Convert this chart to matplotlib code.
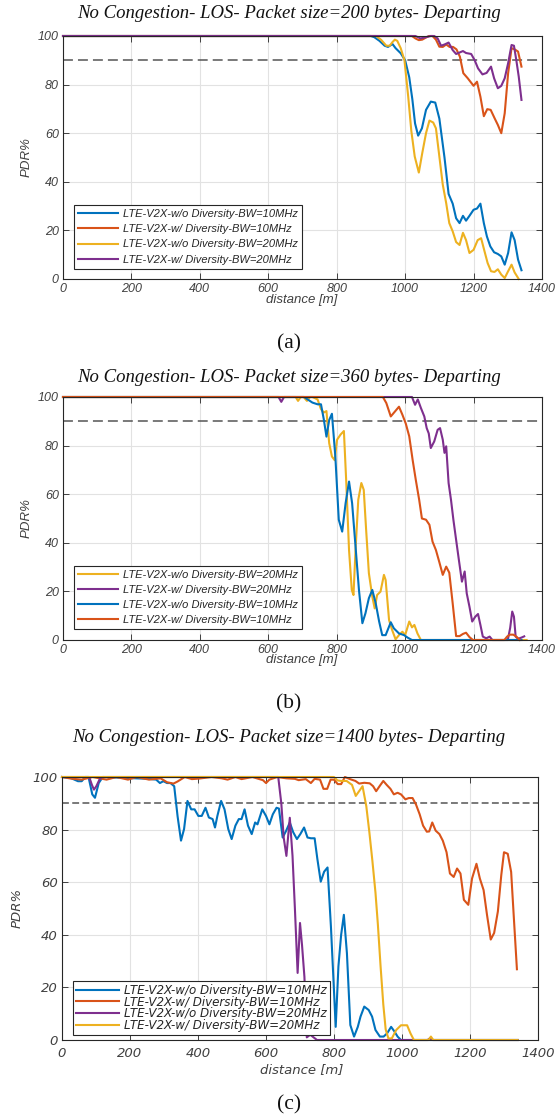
import matplotlib
matplotlib.use('Agg')
import matplotlib.pyplot as plt

# MATLAB default colours
c_blue = '#0072BD'
c_orange = '#D95319'
c_yellow = '#EDB120'
c_purple = '#7E2F8E'

# ---------------- panel (a): 200 bytes ----------------
a_blue_x = [0, 900, 910, 925, 940, 950, 963, 972, 987, 1000, 1012, 1021, 1029, 1038, 1049, 1061, 1075, 1088, 1100,
            1115, 1127, 1139, 1149, 1159, 1169, 1178, 1188, 1200, 1210, 1220, 1230, 1239, 1249, 1260, 1271, 1281,
            1291, 1301, 1311, 1320, 1330, 1340]
a_blue_y = [100, 100, 99.5, 98, 96, 95.5, 96.7, 95, 92.9, 90, 83, 74, 64, 59, 62, 69.6, 73, 72.6, 66,
            50, 35, 31, 25, 23, 26, 24, 26, 28.5, 29, 31, 23, 17.5, 13.4, 11, 10.3, 9.3,
            5.9, 10.7, 19.2, 16, 8, 3.6]
a_orange_x = [0, 1020, 1030, 1040, 1050, 1060, 1070, 1080, 1090, 1100, 1110, 1120, 1130, 1140, 1150, 1160, 1170,
              1183, 1200, 1210, 1220, 1230, 1240, 1250, 1262, 1271, 1281, 1291, 1301, 1311, 1320, 1330, 1340]
a_orange_y = [100, 100, 99, 98.3, 98.5, 99.3, 100, 100, 98.5, 95.6, 95.5, 96.5, 95.5, 95.5, 94.5, 91.5, 84.7,
              82.6, 79.5, 81.2, 75, 67, 69.9, 69.6, 66, 63.4, 60, 68.2, 84.7, 95, 94.5, 93.6, 87.4]
a_yellow_x = [0, 915, 930, 945, 955, 963, 970, 977, 987, 998, 1009, 1018, 1028, 1040, 1050, 1061, 1071, 1082,
              1090, 1100, 1110, 1120, 1129, 1139, 1149, 1159, 1169, 1178, 1188, 1200, 1212, 1222, 1232, 1241,
              1251, 1261, 1271, 1281, 1291, 1301, 1311, 1320, 1332]
a_yellow_y = [100, 100, 98.4, 96, 96, 97.5, 98.5, 98, 95, 90, 75, 61, 50.4, 43.8, 51.8, 60, 65.2, 64.4,
              62, 50.4, 38.8, 31.2, 23, 19.6, 15.2, 14, 19, 16, 10.7, 12, 16, 16.8, 11.4, 6.6,
              3.2, 2.9, 4, 1.8, 0.4, 3.2, 5.9, 2.7, 0]
a_purple_x = [0, 1030, 1045, 1060, 1075, 1085, 1095, 1105, 1115, 1127, 1139, 1149, 1159, 1169, 1178, 1193, 1203,
              1213, 1226, 1238, 1251, 1260, 1271, 1281, 1291, 1301, 1311, 1318, 1325, 1332, 1340]
a_purple_y = [100, 100, 99, 99.5, 100, 100, 99, 96, 96.5, 97.3, 94.2, 92.6, 93.2, 93.8, 93, 92.6, 90.1,
              86.7, 84.2, 84.8, 87.4, 82.6, 78.5, 79.5, 82.6, 88.8, 96.3, 96, 90, 83.3, 73.7]

# ---------------- panel (b): 360 bytes ----------------
b_yellow_x = [0, 680, 687, 695, 703, 713, 722, 729, 744, 754, 762, 770, 778, 786, 794, 801, 811, 821, 828, 836,
              844, 849, 855, 863, 872, 879, 886, 894, 904, 911, 918, 928, 938, 943, 953, 962, 972, 982, 992,
              1000, 1012, 1020, 1027, 1036, 1046, 1355]
b_yellow_y = [100, 100, 98.4, 100, 100, 98.4, 100, 100, 99, 95, 93.6, 94.2, 81, 75.5, 74, 82.4, 84.5, 86, 64.6, 37,
              20.6, 18.5, 37, 57.7, 64.6, 61.8, 45.3, 27.5, 17.9, 13, 18.5, 19.9, 26.8, 24.7, 8.2, 4.1, 0.3, 2, 3.4,
              2, 7.6, 5.2, 6.2, 2.7, 0, 0]
b_purple_x = [0, 630, 638, 646, 655, 1020, 1029, 1037, 1046, 1056, 1063, 1069, 1075, 1085, 1095, 1102, 1110, 1115,
              1120, 1127, 1134, 1141, 1149, 1157, 1166, 1174, 1180, 1188, 1196, 1205, 1213, 1220, 1227, 1237,
              1247, 1255, 1300, 1307, 1313, 1318, 1323, 1330, 1340, 1348]
b_purple_y = [100, 100, 98, 100, 100, 100, 96.8, 99, 95.5, 92, 87.2, 85, 79, 81.7, 86.5, 87.2, 82.4, 77,
              79.7, 64.6, 57.7, 49.5, 41.2, 33, 24, 28.2, 19.2, 13.7, 7.6, 9.6, 10.7, 6.2, 1.4, 0.7,
              1.4, 0, 0, 5, 11.7, 9.6, 1.4, 0.5, 1, 1.5]
b_blue_x = [0, 705, 715, 729, 744, 754, 762, 770, 778, 786, 796, 806, 816, 826, 836, 845, 855, 865, 875, 884,
            894, 904, 914, 924, 933, 943, 958, 967, 982, 997, 1007, 1020, 1340]
b_blue_y = [100, 100, 99, 97.7, 97, 97, 91, 83.7, 90.5, 93.1, 75.5, 49.5, 44.6, 56.3, 65.2, 56.3, 38.5, 20.6, 6.9,
            11, 17.2, 20.6, 15.1, 7.6, 2, 2, 7.3, 4.8, 2.7, 2, 1, 0, 0]
b_orange_x = [0, 935, 945, 958, 973, 982, 992, 1002, 1012, 1022, 1031, 1041, 1049, 1061, 1071, 1080, 1090, 1100,
              1110, 1120, 1129, 1139, 1149, 1159, 1169, 1178, 1188, 1198, 1290, 1298, 1306, 1316, 1325, 1335]
b_orange_y = [100, 100, 97.5, 92, 94.5, 96, 92.7, 89, 83.8, 74, 66, 57.7, 50, 49.5, 47.4, 40.5, 37, 32,
              26.8, 30.2, 27.7, 15, 1.6, 1.6, 2.5, 3, 1.2, 0, 0, 1.4, 2.2, 2.2, 1.4, 0]

# ---------------- panel (c): 1400 bytes ----------------
c_blue_x = [0, 26, 47, 58, 68, 78, 89, 97, 108, 120, 256, 277, 288, 298, 309, 319, 330, 340, 350, 359, 369, 380,
            390, 401, 411, 422, 432, 443, 450, 457, 468, 478, 489, 499, 510, 520, 528, 537, 547, 558, 568, 575,
            589, 600, 610, 620, 631, 638, 649, 659, 670, 680, 691, 701, 712, 722, 732, 743, 751, 761, 771, 781,
            791, 805, 813, 821, 829, 838, 848, 859, 870, 878, 889, 902, 912, 922, 935, 946, 956, 968, 978, 987,
            997, 1340]
c_blue_y = [100, 99.6, 98.4, 98.4, 100, 100, 93.4, 92.1, 97.7, 100, 99.3, 99, 97.7, 98.4, 97.7, 97.7, 96.5, 85,
            75.8, 80.2, 90.9, 87.7, 87.7, 85.2, 85.2, 88.3, 84.6, 84, 80.8, 85.2, 90.9, 87.7, 80.2, 76.4, 81.5,
            84, 84, 87.7, 81.5, 78.3, 82.7, 82, 87.7, 85.2, 82, 85.8, 88.3, 88, 77, 79.5, 82.7, 79, 76.4, 78.3,
            80.8, 77, 76.7, 76.7, 68.9, 60.2, 64, 65.6, 43, 5, 28, 40, 47.6, 33, 5.7, 1.3, 5, 8.9, 12.7, 11.4,
            8.9, 3.8, 1.3, 1.3, 2.5, 5, 3.2, 1.3, 0, 0]
c_orange_x = [0, 26, 58, 90, 131, 160, 194, 220, 256, 290, 309, 328, 340, 361, 382, 403, 440, 470, 487, 510, 528,
              560, 591, 600, 610, 633, 660, 685, 696, 717, 732, 743, 759, 769, 780, 790, 800, 811, 821, 832,
              847, 863, 874, 889, 905, 915, 924, 934, 945, 955, 966, 976, 987, 997, 1010, 1020, 1031, 1041,
              1052, 1062, 1073, 1080, 1089, 1099, 1110, 1120, 1131, 1141, 1152, 1162, 1172, 1182, 1195, 1206,
              1219, 1229, 1240, 1250, 1261, 1271, 1282, 1292, 1300, 1311, 1321, 1329, 1338]
c_orange_y = [100, 99.4, 99, 100, 99, 100, 99, 100, 99, 99.5, 98, 97.5, 98.3, 100, 99.2, 99.4, 100, 99.5, 99,
              100, 99.2, 100, 98.8, 97.7, 99, 100, 99.5, 99.3, 98.8, 99.2, 97.7, 99.3, 99, 95.5, 95.5, 99, 99,
              97.3, 97.3, 100, 99.2, 98.5, 97.5, 97.8, 97.6, 96.5, 94.6, 96.5, 98.5, 97, 95.5, 93.4, 94, 93.4,
              91.5, 92, 92, 89.6, 85.8, 81.5, 79.2, 79.3, 82.7, 79.6, 78.3, 75.8, 71.4, 63.3, 62, 65.2, 63.3,
              53.3, 51.4, 61.4, 67, 61.4, 57, 47.6, 38.2, 40.7, 48.9, 62.7, 71.4, 70.8, 63.9, 46.4, 26.9]
c_purple_x = [0, 80, 88, 94, 101, 112, 120, 636, 645, 652, 660, 670, 678, 685, 693, 700, 706, 713, 720, 730,
              740, 750, 1075, 1082, 1090, 1340]
c_purple_y = [100, 100, 97, 95.2, 96.5, 99.5, 100, 100, 90, 77, 70, 84.5, 70, 50, 25.5, 44.5, 36, 24, 1, 2,
              1, 0, 0, 0.6, 0, 0]
c_yellow_x = [0, 800, 810, 822, 837, 853, 864, 876, 884, 895, 904, 913, 922, 929, 937, 945, 952, 960, 970, 983,
              997, 1015, 1025, 1035, 1078, 1085, 1092, 1340]
c_yellow_y = [100, 100, 98.7, 98.5, 98.5, 97, 92.8, 95, 96.5, 88.9, 79, 68, 56, 44, 28, 13.5, 4, 0.6, 0.6, 3.8,
              5.6, 5.6, 2.5, 0, 0, 1.3, 0, 0]

lab_10_wo = 'LTE-V2X-w/o Diversity-BW=10MHz'
lab_10_w = 'LTE-V2X-w/ Diversity-BW=10MHz'
lab_20_wo = 'LTE-V2X-w/o Diversity-BW=20MHz'
lab_20_w = 'LTE-V2X-w/ Diversity-BW=20MHz'

W, H = 557, 1119
fig = plt.figure(figsize=(W / 100, H / 100), dpi=100)


def make_axes(l, t, r, b):
    return fig.add_axes([l / W, 1 - b / H, (r - l) / W, (b - t) / H])


def style_axes(ax, tickfont, tsize, dash):
    ax.set_xlim(0, 1400)
    ax.set_ylim(0, 100)
    ax.set_xticks(range(0, 1401, 200))
    ax.set_yticks(range(0, 101, 20))
    ax.grid(True, color='#e2e2e2', lw=0.8)
    ax.set_axisbelow(True)
    ax.tick_params(direction='in', top=True, right=True, length=4, width=0.6,
                   color='#262626', labelcolor='#404040', labelsize=tsize, pad=3)
    for lbl in ax.get_xticklabels() + ax.get_yticklabels():
        lbl.set_fontfamily(tickfont)
        lbl.set_fontstyle('italic')
    for sp in ax.spines.values():
        sp.set_linewidth(0.8)
        sp.set_color('#262626')
    ax.axhline(90, color='#555555', lw=1.1, ls=dash, zorder=1.5)


def add_legend(ax, font, size, anchor, spacing, hlen, bpad):
    leg = ax.legend(loc='lower left', bbox_to_anchor=anchor, borderaxespad=0,
                    prop={'family': font, 'style': 'italic', 'size': size},
                    handlelength=hlen, handletextpad=0.45, labelspacing=spacing,
                    borderpad=bpad, fancybox=False, framealpha=1, edgecolor='#262626')
    leg.get_frame().set_linewidth(0.8)
    for t in leg.get_texts():
        t.set_color('#262626')
    return leg


lw = 1.5

# (a)
ax1 = make_axes(63, 36, 542, 279)
style_axes(ax1, 'Liberation Sans', 9, (0, (6.5, 3.3)))
ax1.plot(a_blue_x, a_blue_y, color=c_blue, lw=lw, label=lab_10_wo, clip_on=False)
ax1.plot(a_orange_x, a_orange_y, color=c_orange, lw=lw, label=lab_10_w, clip_on=False)
ax1.plot(a_yellow_x, a_yellow_y, color=c_yellow, lw=lw, label=lab_20_wo, clip_on=False)
ax1.plot(a_purple_x, a_purple_y, color=c_purple, lw=lw, label=lab_20_w, clip_on=False)
add_legend(ax1, 'Liberation Sans', 8, (0.023, 0.043), 0.47, 3.6, 0.35)

# (b)
ax2 = make_axes(63, 397, 542, 640)
style_axes(ax2, 'Liberation Sans', 9, (0, (6.5, 3.3)))
ax2.plot(b_yellow_x, b_yellow_y, color=c_yellow, lw=lw, label=lab_20_wo, clip_on=False)
ax2.plot(b_purple_x, b_purple_y, color=c_purple, lw=lw, label=lab_20_w, clip_on=False)
ax2.plot(b_blue_x, b_blue_y, color=c_blue, lw=lw, label=lab_10_wo, clip_on=False)
ax2.plot(b_orange_x, b_orange_y, color=c_orange, lw=lw, label=lab_10_w, clip_on=False)
add_legend(ax2, 'Liberation Sans', 8, (0.023, 0.045), 0.47, 3.6, 0.35)

# (c)
ax3 = make_axes(62, 777, 538, 1040)
style_axes(ax3, 'DejaVu Sans', 9.5, (0, (4.5, 2.2)))
ax3.tick_params(axis='x', pad=5)
ax3.plot(c_blue_x, c_blue_y, color=c_blue, lw=lw, label=lab_10_wo, clip_on=False)
ax3.plot(c_orange_x, c_orange_y, color=c_orange, lw=lw, label=lab_10_w, clip_on=False)
ax3.plot(c_purple_x, c_purple_y, color=c_purple, lw=lw, label=lab_20_wo, clip_on=False)
ax3.plot(c_yellow_x, c_yellow_y, color=c_yellow, lw=lw, label=lab_20_w, clip_on=False)
add_legend(ax3, 'DejaVu Sans', 8.6, (0.023, 0.02), -0.12, 3.6, 0.25)

titles = ['No Congestion- LOS- Packet size=200 bytes- Departing',
          'No Congestion- LOS- Packet size=360 bytes- Departing',
          'No Congestion- LOS- Packet size=1400 bytes- Departing']
title_y = [14, 377, 738]
xlabel_y = [300, 660, 1070]
ylab_x = [27, 27, 17]
ax_mid = [157, 518, 908]
captions = ['(a)', '(b)', '(c)']
cap_y = [344, 704, 1105]

for i in range(3):
    fam = 'Liberation Sans' if i < 2 else 'DejaVu Sans'
    fig.text(289 / W, 1 - title_y[i] / H, titles[i], ha='center', va='center',
             family='Liberation Serif', style='italic', size=13.5, color='#111111')
    fig.text(302 / W, 1 - xlabel_y[i] / H, 'distance [m]', ha='center', va='center',
             family=fam, style='italic', size=9.5, color='#404040')
    fig.text(ylab_x[i] / W, 1 - ax_mid[i] / H, 'PDR%', ha='center', va='center', rotation=90,
             family=fam, style='italic', size=9.5, color='#404040')
    fig.text(289 / W, 1 - cap_y[i] / H, captions[i], ha='center', va='center',
             family='Liberation Serif', size=15.5, color='#111111')

fig.savefig('out.png', dpi=100)
